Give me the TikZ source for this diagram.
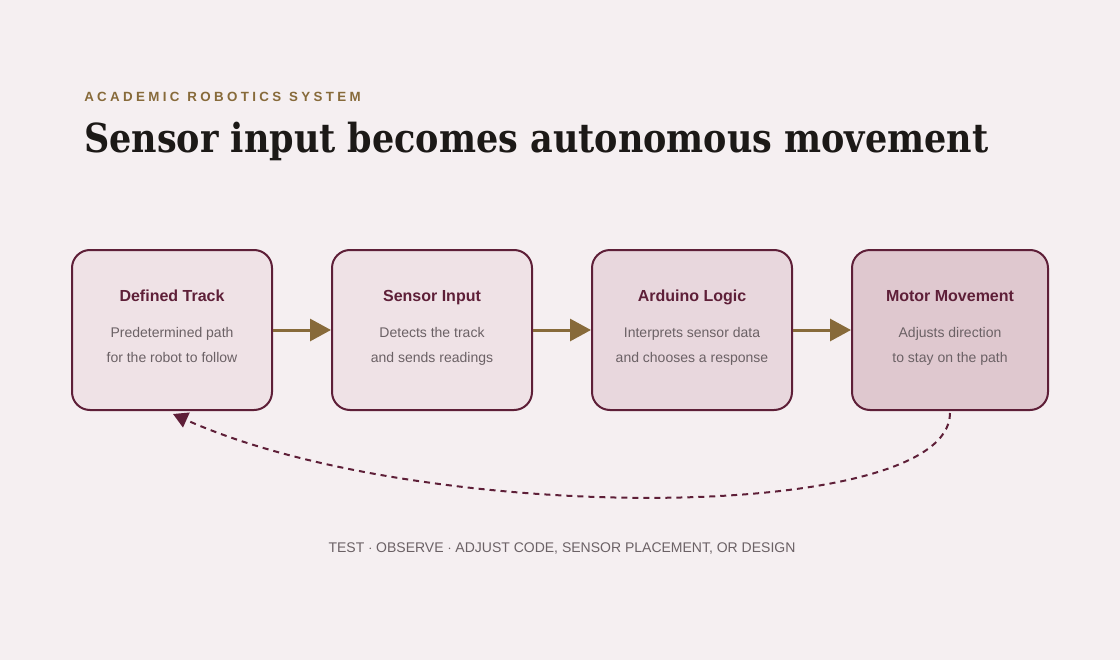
\documentclass[tikz,border=0pt]{standalone}
\usepackage{fontspec}
\setmainfont{Liberation Sans}
\newfontfamily\headfont[FakeStretch=0.875]{DejaVu Serif}
\newfontfamily\kickerfont[LetterSpace=25]{Liberation Sans}
\usetikzlibrary{arrows.meta}

\definecolor{bgpink}{HTML}{F5EFF1}
\definecolor{ink}{HTML}{1C1917}
\definecolor{bronze}{HTML}{876A3A}
\definecolor{maroon}{HTML}{5E1F38}
\definecolor{fillA}{HTML}{EFE2E6}
\definecolor{fillB}{HTML}{E8D7DD}
\definecolor{fillC}{HTML}{DFC8CF}
\definecolor{greytext}{HTML}{6B6165}

\tikzset{
  stage/.style={draw=maroon, line width=1.5pt, rounded corners=13.5pt,
    minimum width=150pt, minimum height=120pt, inner sep=0pt},
  stagetitle/.style={anchor=base, inner sep=0pt, text=maroon,
    font=\bfseries\fontsize{12}{14}\selectfont},
  stagetext/.style={anchor=base, inner sep=0pt, text=greytext, align=center,
    font=\fontsize{10.5}{18.75}\selectfont},
  flow/.style={draw=bronze, line width=2.25pt,
    -{Triangle[length=15.75pt, width=16.5pt]}},
  loopback/.style={draw=maroon, line width=1.5pt, dash pattern=on 4.5pt off 3.75pt,
    -{Triangle[length=11pt, width=12pt]}}
}

\begin{document}
\begin{tikzpicture}[x=0.75pt,y=-0.75pt]
\fill[bgpink] (0,0) rectangle (1120,660);
\useasboundingbox (0,0) rectangle (1120,660);

\node[anchor=base west, inner sep=0pt, text=bronze,
  font=\kickerfont\bfseries\fontsize{10}{12}\selectfont] (kicker) at (84,102)
  {ACADEMIC\hspace{6pt}ROBOTICS\hspace{6pt}SYSTEM};
\node[anchor=base west, inner sep=0pt, text=ink,
  font=\headfont\bfseries\fontsize{30}{36}\selectfont] (title) at (84,152) {Sensor input becomes autonomous movement};

% the four stages
\node[stage, fill=fillA] (track) at (172,330) {};
\node[stage, fill=fillA] (sensor) at (432,330) {};
\node[stage, fill=fillB] (logic) at (692,330) {};
\node[stage, fill=fillC, minimum width=147pt] (motor) at (950,330) {};

\node[stagetitle] (track-title) at (172,301) {Defined Track};
\node[stagetitle] (sensor-title) at (432,301) {Sensor Input};
\node[stagetitle] (logic-title) at (692,301) {Arduino Logic};
\node[stagetitle] (motor-title) at (950,301) {Motor Movement};

\node[stagetext] (track-text) at (172,362) {Predetermined path\\for the robot to follow};
\node[stagetext] (sensor-text) at (432,362) {Detects the track\\and sends readings};
\node[stagetext] (logic-text) at (692,362) {Interprets sensor data\\and chooses a response};
\node[stagetext] (motor-text) at (950,362) {Adjusts direction\\to stay on the path};

\draw[flow] (track) -- (sensor);
\draw[flow] (sensor) -- (logic);
\draw[flow] (logic) -- (motor);

% feedback loop
\coordinate (loop-start) at (950,413);
\coordinate (loop-end) at (173,414);
\draw[loopback] (loop-start) .. controls (950,525) and (420,525) .. (loop-end);

\node[anchor=base, inner sep=0pt, text=greytext, font=\fontsize{10.5}{12}\selectfont] (motto) at (562,552)
  {TEST $\cdot$ OBSERVE $\cdot$ ADJUST CODE, SENSOR PLACEMENT, OR DESIGN};
\end{tikzpicture}
\end{document}
